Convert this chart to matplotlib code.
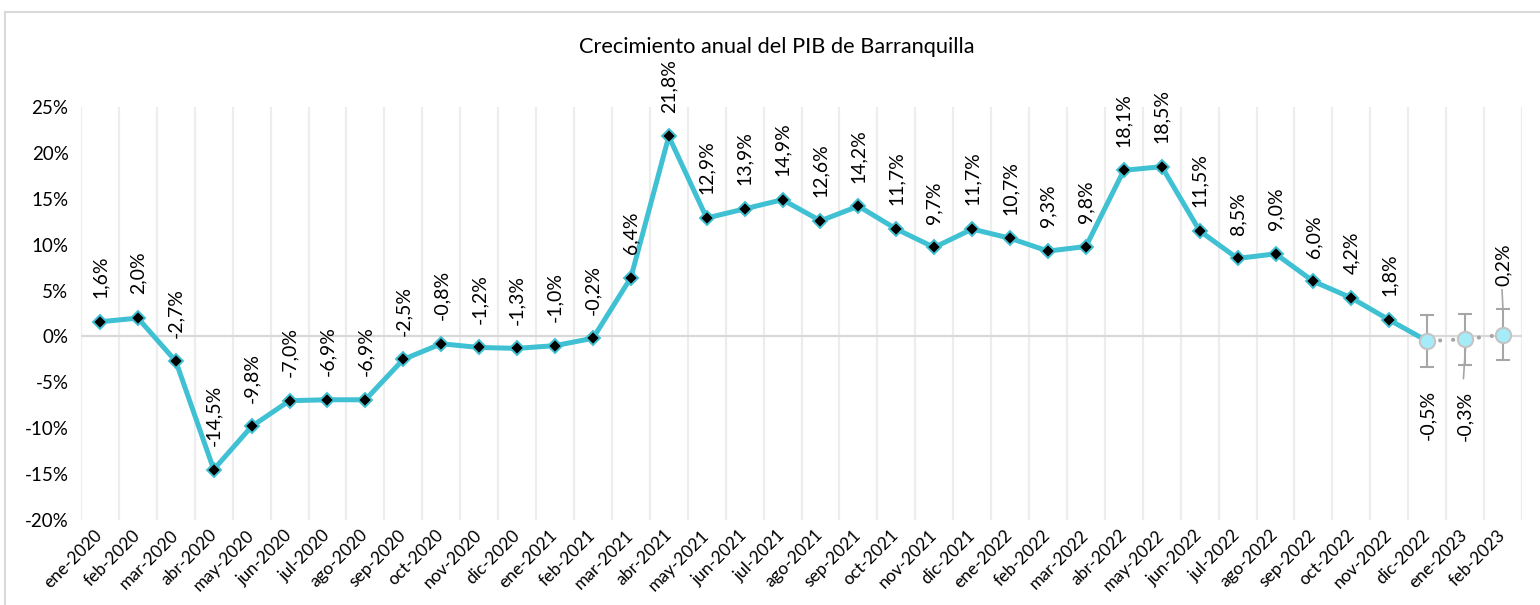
import matplotlib
matplotlib.use("Agg")
import matplotlib.pyplot as plt
from matplotlib.lines import Line2D
import numpy as np

plt.rcParams['font.family'] = ['Lato', 'DejaVu Sans']

categories = ["ene-2020", "feb-2020", "mar-2020", "abr-2020", "may-2020", "jun-2020",
              "jul-2020", "ago-2020", "sep-2020", "oct-2020", "nov-2020", "dic-2020",
              "ene-2021", "feb-2021", "mar-2021", "abr-2021", "may-2021", "jun-2021",
              "jul-2021", "ago-2021", "sep-2021", "oct-2021", "nov-2021", "dic-2021",
              "ene-2022", "feb-2022", "mar-2022", "abr-2022", "may-2022", "jun-2022",
              "jul-2022", "ago-2022", "sep-2022", "oct-2022", "nov-2022", "dic-2022",
              "ene-2023", "feb-2023"]
observed = [1.6, 2.0, -2.7, -14.5, -9.8, -7.0, -6.9, -6.9, -2.5, -0.8, -1.2, -1.3,
            -1.0, -0.2, 6.4, 21.8, 12.9, 13.9, 14.9, 12.6, 14.2, 11.7, 9.7, 11.7,
            10.7, 9.3, 9.8, 18.1, 18.5, 11.5, 8.5, 9.0, 6.0, 4.2, 1.8]
forecast = [-0.5, -0.3, 0.2]
forecast_err = [2.8, 2.8, 2.8]
title = "Crecimiento anual del PIB de Barranquilla"
yticks = [-20, -15, -10, -5, 0, 5, 10, 15, 20, 25]

LINE = "#3fc1d3"
GRAY = "#a6a6a6"

fig = plt.figure(figsize=(15.4, 6.05), dpi=100)
ax = fig.add_axes([81/1540, 1-520/605, (1522-81)/1540, (520-107)/605])

n = len(categories)
x = np.arange(n)
n_obs = len(observed)
x_obs = x[:n_obs]
x_fc = x[n_obs:]

# vertical category-boundary gridlines
for b in np.arange(n + 1) - 0.5:
    ax.axvline(b, color="#ededed", lw=1.6, zorder=0)
ax.axhline(0, color="#d9d9d9", lw=1.6, zorder=1)

# main line including link to first forecast
ax.plot(list(x_obs) + [x_fc[0]], observed + [forecast[0]], color=LINE, lw=3.6,
        solid_capstyle='round', solid_joinstyle='round', zorder=3)
ax.plot(x_obs, observed, ls='none', marker='D', ms=7, mfc='black', mec=LINE,
        mew=1.4, zorder=4)

# forecast dotted line
ax.plot(x_fc, forecast, color=GRAY, lw=3.0, ls=(0, (0.01, 3.1)),
        dash_capstyle='round', zorder=2)
ax.errorbar(x_fc, forecast, yerr=forecast_err, fmt='none', ecolor=GRAY,
            elinewidth=1.5, capsize=5, capthick=1.5, zorder=4)
ax.plot(x_fc, forecast, ls='none', marker='o', ms=11, mfc="#a6ecf8", mec="#c4c4c4",
        mew=1.5, zorder=5)

def fmt(v):
    return f"{v:.1f}".replace(".", ",") + "%"

for xi, v in zip(x_obs, observed):
    ax.annotate(fmt(v), (xi, v), xytext=(0, 17), textcoords='offset points',
                rotation=90, ha='center', va='bottom', fontsize=14, color='black')

# forecast labels
fc_offsets = [(0, -35), (0, -37), (0, 35)]
for xi, v, off in zip(x_fc, forecast, fc_offsets):
    va = 'top' if off[1] < 0 else 'bottom'
    ax.annotate(fmt(v), (xi, v), xytext=off, textcoords='offset points',
                rotation=90, ha='center', va=va, fontsize=14, color='black')
# leader lines
ax.annotate("", (x_fc[1] + 0.02, forecast[1] - 0.4), xytext=(x_fc[1] - 0.05, forecast[1] - 4.6),
            arrowprops=dict(arrowstyle='-', color=GRAY, lw=1.2))
ax.annotate("", (x_fc[2], forecast[2] + 2.6), xytext=(x_fc[2] - 0.03, forecast[2] + 5.2),
            arrowprops=dict(arrowstyle='-', color=GRAY, lw=1.2))

ax.set_xlim(-0.5, n - 0.5)
ax.set_ylim(-20, 25)
ax.set_yticks(yticks)
ax.set_yticklabels([f"{t}%" for t in yticks], fontsize=13.5)
ax.set_xticks(x)
ax.set_xticklabels(categories, rotation=45, ha='right', va='center',
                   rotation_mode='anchor', fontsize=12.5)
ax.tick_params(axis='both', length=0)
ax.tick_params(axis='x', pad=9)
ax.tick_params(axis='y', pad=9)
for s in ax.spines.values():
    s.set_visible(False)

fig.text(777/1540, 1-47/605, title, ha='center', va='center', fontsize=15.7)

# figure border (top and left visible)
fig.add_artist(Line2D([5/1540, 1.0], [1-12/605, 1-12/605], transform=fig.transFigure,
                      color="#d9d9d9", lw=1.5))
fig.add_artist(Line2D([5/1540, 5/1540], [0, 1-12/605], transform=fig.transFigure,
                      color="#d9d9d9", lw=1.5))

fig.savefig("out.png", dpi=100)
